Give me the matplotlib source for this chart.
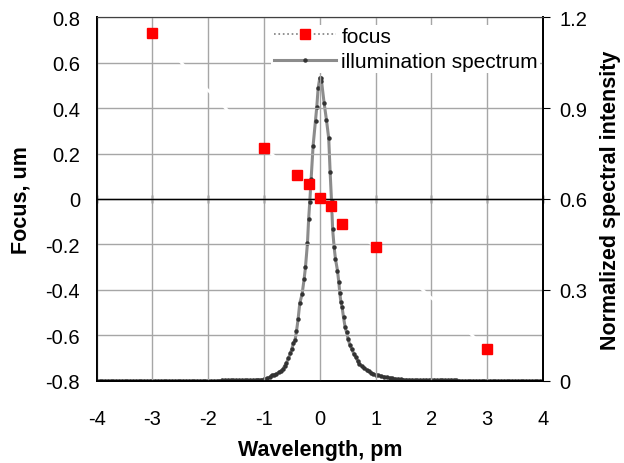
import numpy as np
import matplotlib.pyplot as plt
from matplotlib.lines import Line2D

plt.rcParams['font.family'] = ['Liberation Sans', 'DejaVu Sans']
plt.rcParams['axes.unicode_minus'] = False

# focus vs wavelength
focus_x = [-3, -1, -0.4, -0.2, 0, 0.2, 0.4, 1, 3]
focus_y = [0.73, 0.225, 0.105, 0.065, 0.005, -0.03, -0.11, -0.21, -0.66]

# illumination spectrum
tail_left_x = np.round(np.arange(-4.0, -1.79, 0.05), 2)
tail_left_y = [0.0] * len(tail_left_x)
mid_left_x = [-1.75, -1.7, -1.65, -1.6, -1.55, -1.5, -1.45, -1.4, -1.35, -1.3,
              -1.25, -1.2, -1.15, -1.1, -1.05, -1.0, -0.95, -0.9]
mid_left_y = [0.002, 0.002, 0.002, 0.002, 0.002, 0.002, 0.002, 0.002, 0.002, 0.002,
              0.002, 0.002, 0.003, 0.004, 0.004, 0.005, 0.008, 0.012]
peak_x = [-0.866, -0.825, -0.777, -0.73, -0.687, -0.658, -0.628, -0.598, -0.562,
          -0.526, -0.502, -0.472, -0.443, -0.418, -0.389, -0.359, -0.317, -0.281,
          -0.257, -0.221, -0.2, -0.18, -0.156, -0.12, -0.077, -0.054, -0.03, 0.0,
          0.015, 0.03, 0.077, 0.12, 0.16, 0.185, 0.21, 0.23, 0.257, 0.281, 0.317,
          0.341, 0.359, 0.377, 0.4, 0.425, 0.454, 0.479, 0.508, 0.538, 0.574, 0.61,
          0.646, 0.676, 0.705, 0.748, 0.795, 0.838, 0.879]
peak_y = [0.018, 0.02, 0.023, 0.029, 0.034, 0.04, 0.05, 0.059, 0.075,
          0.091, 0.105, 0.125, 0.136, 0.163, 0.204, 0.256, 0.287, 0.336,
          0.375, 0.455, 0.534, 0.59, 0.666, 0.776, 0.858, 0.904, 0.965, 1.0,
          1.0, 0.99, 0.917, 0.86, 0.8, 0.69, 0.593, 0.5, 0.441, 0.402, 0.364,
          0.325, 0.29, 0.261, 0.243, 0.21, 0.177, 0.161, 0.138, 0.119, 0.105, 0.089,
          0.078, 0.067, 0.056, 0.05, 0.042, 0.037, 0.031]
mid_right_x = [0.92, 0.96, 1.0, 1.05, 1.1, 1.15, 1.2, 1.25, 1.3, 1.35, 1.4, 1.45,
               1.5, 1.55, 1.6, 1.65, 1.7, 1.75, 1.8, 1.85, 1.9, 1.95, 2.0, 2.05,
               2.1, 2.15, 2.2, 2.25, 2.3, 2.35, 2.4, 2.45, 2.5]
mid_right_y = [0.027, 0.023, 0.02, 0.018, 0.016, 0.014, 0.012, 0.01, 0.009, 0.007,
               0.006, 0.005, 0.004, 0.004, 0.003, 0.003, 0.002, 0.002, 0.002, 0.002,
               0.003, 0.002, 0.002, 0.003, 0.002, 0.002, 0.003, 0.002, 0.002, 0.003,
               0.002, 0.002, 0.001]
tail_right_x = np.round(np.arange(2.55, 4.01, 0.05), 2)
tail_right_y = [0.0] * len(tail_right_x)

spec_x = np.concatenate([tail_left_x, mid_left_x, peak_x, mid_right_x, tail_right_x])
spec_y = np.concatenate([tail_left_y, mid_left_y, peak_y, mid_right_y, tail_right_y])

fig = plt.figure(figsize=(6.24, 4.64), dpi=100)
ax = fig.add_axes([0.155, 0.177, 0.715, 0.784])
ax2 = ax.twinx()

# spectrum on the right axis, drawn beneath the focus axis
ax2.plot(spec_x, spec_y, color='#8c8c8c', lw=2.2, marker='o', markersize=2.2,
         markerfacecolor='#333333', markeredgecolor='#333333', zorder=2)
ax2.set_ylim(0, 1.2)
ax2.set_yticks([0, 0.3, 0.6, 0.9, 1.2])
ax2.set_yticklabels(['0', '0.3', '0.6', '0.9', '1.2'])
ax2.set_yticks([0.15, 0.45, 0.75, 1.05], minor=True)
ax2.tick_params(axis='y', which='major', direction='out', length=5, labelsize=14.5, pad=7)
ax2.tick_params(axis='y', which='minor', direction='in', length=3)
ax2.set_ylabel('Normalized spectral intensity', fontsize=15.5, fontweight='bold', labelpad=9)

ax.set_zorder(ax2.get_zorder() + 1)
ax.patch.set_visible(False)

ax.grid(True, color='#a6a6a6', lw=1, zorder=0)
ax.set_axisbelow(True)
ax.plot(focus_x, focus_y, color='white', lw=2, zorder=1)
ax.axhline(0, color='black', lw=1, zorder=1.5)
ax.plot(focus_x, focus_y, ls='none', marker='s', markersize=7, color='#ff0000', zorder=3)

ax.set_xlim(-4, 4)
ax.set_ylim(-0.8, 0.8)
ax.set_xticks(range(-4, 5))
ax.set_yticks([-0.8, -0.6, -0.4, -0.2, 0, 0.2, 0.4, 0.6, 0.8])
ax.set_yticklabels(['-0.8', '-0.6', '-0.4', '-0.2', '0', '0.2', '0.4', '0.6', '0.8'])
ax.tick_params(axis='both', length=0, labelsize=14.5)
ax.tick_params(axis='x', pad=20)
ax.tick_params(axis='y', pad=12)
ax.set_xlabel('Wavelength, pm', fontsize=15.5, fontweight='bold', labelpad=8)
ax.set_ylabel('Focus, um', fontsize=15.5, fontweight='bold', labelpad=10)

# axis line crossing at zero
sec = ax.secondary_xaxis(0.5)
sec.set_xticks(range(-4, 5))
sec.tick_params(direction='inout', length=6, labelbottom=False, labeltop=False, width=1)
sec.spines['bottom'].set_linewidth(1)

for s in ['left', 'bottom', 'right']:
    ax2.spines[s].set_linewidth(1.3)
    ax.spines[s].set_linewidth(1.3)
ax.spines['top'].set_color('#404040')
ax2.spines['top'].set_color('#404040')

h1 = Line2D([], [], color='#7f7f7f', ls=':', lw=1.2, marker='s', markersize=7,
            markerfacecolor='#ff0000', markeredgecolor='#ff0000')
h2 = Line2D([], [], color='#8c8c8c', lw=2.2, marker='o', markersize=2.2,
            markerfacecolor='#333333', markeredgecolor='#333333')
leg = ax.legend([h1, h2], ['focus', 'illumination spectrum'], loc='upper left',
                bbox_to_anchor=(0.387, 0.985), fontsize=15, frameon=True,
                handlelength=3.0, handletextpad=0.25, borderpad=0.1,
                labelspacing=0.3, borderaxespad=0.1)
leg.get_frame().set_edgecolor('none')
leg.get_frame().set_facecolor('white')
leg.get_frame().set_alpha(1)

fig.savefig('out.png', dpi=100)
